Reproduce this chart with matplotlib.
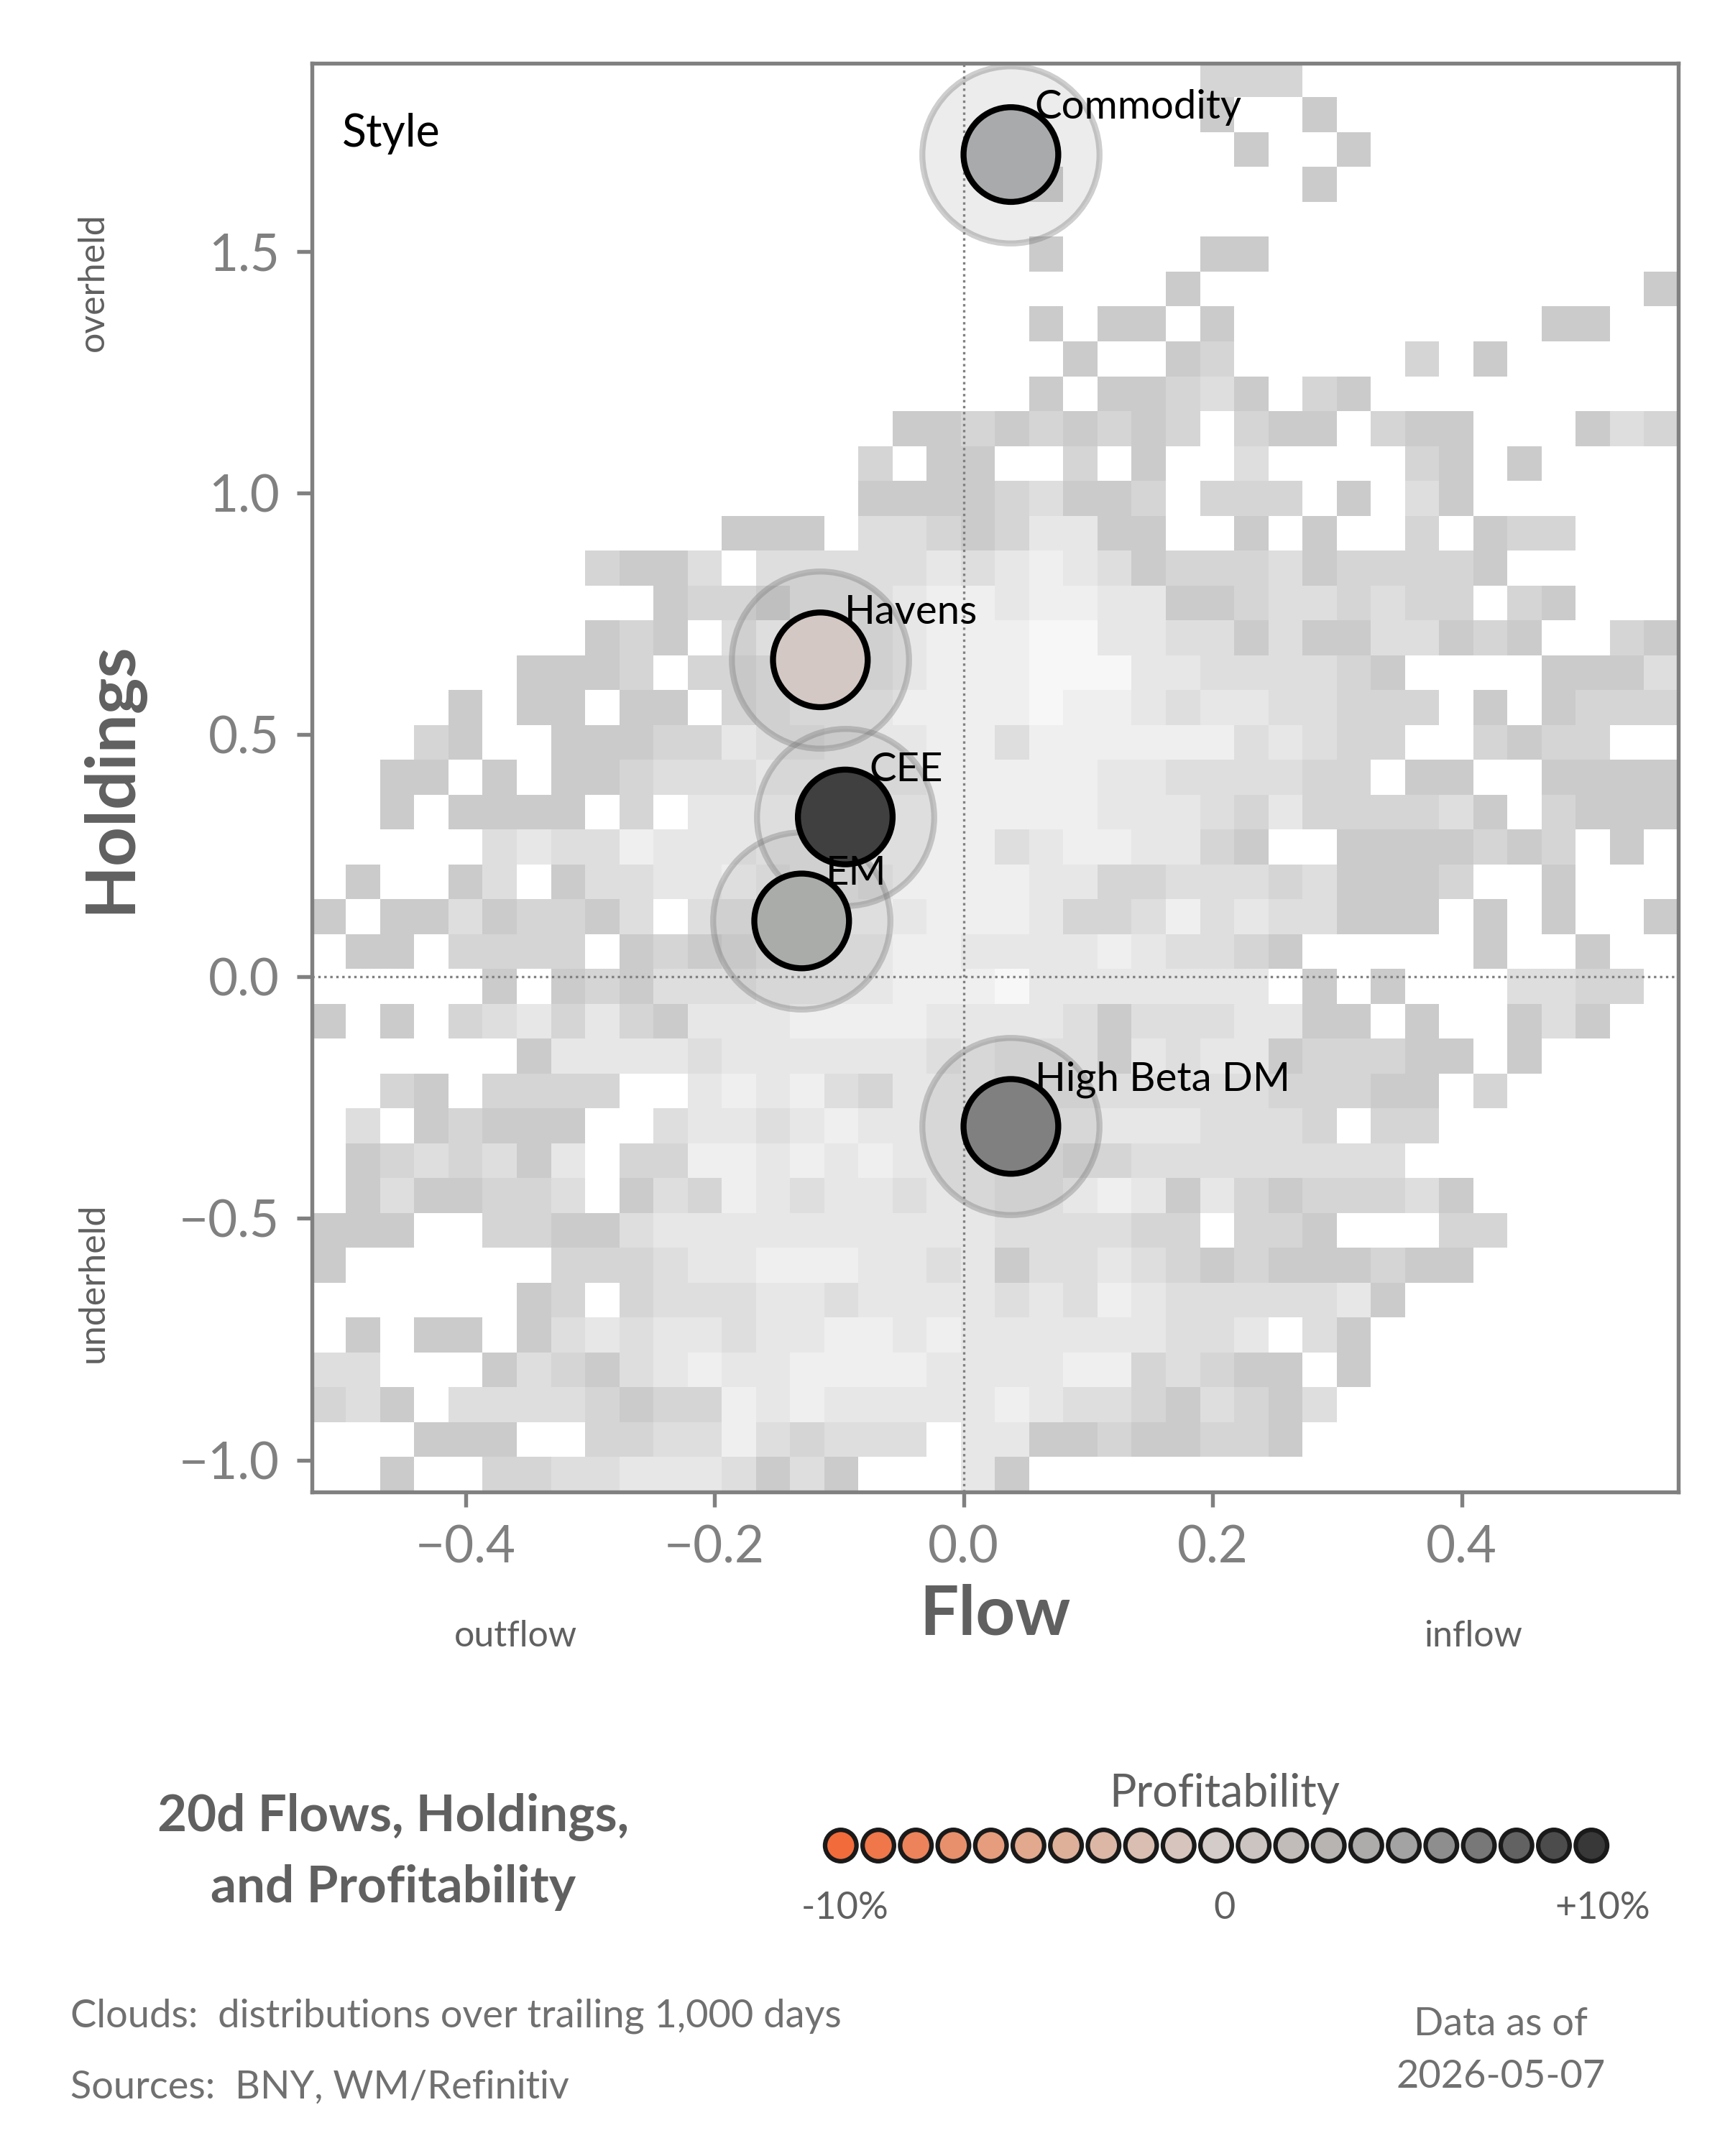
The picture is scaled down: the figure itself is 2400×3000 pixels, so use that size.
import matplotlib
matplotlib.use("Agg")
import matplotlib.pyplot as plt
import numpy as np
from matplotlib.colors import ListedColormap, LinearSegmentedColormap

plt.rcParams["font.family"] = ["Lato", "DejaVu Sans"]

# background cloud: density levels per cell (top row first), '.' = empty
cloud_rows = [
    "..........................222...........",
    "..........................1..1..........",
    "...........................1..1.........",
    ".....................1.......1..........",
    "........................................",
    ".....................1....11............",
    ".........................1.............1",
    ".....................1.11.1.........11..",
    "......................1..12.....2.1.....",
    ".....................1.11231.21.........",
    ".................112121212.211.211...1321",
    "................2.11..2.1..3....21.1....",
    "................111123112.222.1.31......",
    "............111.332124411..1.1..2.122...",
    "........2113.333334345431222312222 1.....".replace(" ", ""),
    "..........122133345545544112332322.21...",
    "........121.35343455566443313113312 1..21".replace(" ", ""),
    "......1112.223333455566644333321....1113",
    "....1.11.11.234445555655434433222.1.1222",
    "...21..1112243344455355555534322..2122..",
    "..11.1.112333444445555544333322.11..1111",
    "..1.1111.2.4455555555554443242222 31.2111".replace(" ", ""),
    ".....3433544455555553455442 1..1111212.1.".replace(" ", ""),
    ".1..13.1334454554555544223332311 12..1...".replace(" ", ""),
    "1.11312213.3344554555422353433111.1.1..1",
    ".11.2222.12123444554444543321.....1..1..",
    ".....1.121333444455564444444.1.1...3322.",
    "1.1.2342421444555544443133344 11.1..131..".replace(" ", ""),
    "......14444344444434333143441222 11.1....".replace(" ", ""),
    "..21.2222..4545324443333333322211.2.....",
    ".3.12111..34434544443444443332.22.......",
    ".1232314.22554545444332233333333........",
    ".1311223.1325434434433454142122231......",
    "111..221134444444444333322.221...22.....",
    "1......222344555443413343212111211......",
    "......12.23334434444343543333341........",
    ".1.11.1343443445545444444334.31.........",
    "33...132134544555544445523211.1.........",
    "231.33332122545444445433213213..........",
    "...111..2233532333.4411211221...........",
    "..1..22334443131...41...................",
]

labels = ["Commodity", "Havens", "CEE", "EM", "High Beta DM"]
flow = [0.038, -0.115, -0.095, -0.130, 0.038]
holdings = [1.70, 0.655, 0.330, 0.115, -0.310]
fills = ["#a9aaab", "#d3c8c3", "#404040", "#aaacaa", "#808080"]

xlim = (-0.523, 0.574)
ylim = (-1.066, 1.889)

grid = np.array([[0 if ch == "." else int(ch) for ch in row[:40].ljust(40, ".")]
                 for row in cloud_rows], dtype=float)
grid = np.ma.masked_equal(grid, 0)
cloud_cmap = ListedColormap(["#cbcbcb", "#d5d5d5", "#dedede", "#e7e7e7", "#efefef", "#f7f7f7"])

fig = plt.figure(figsize=(8, 10), dpi=300)
ax = fig.add_axes([0.181, 0.308, 0.792, 0.6627])
ax.imshow(grid, cmap=cloud_cmap, vmin=0.5, vmax=6.5, extent=(*xlim, *ylim),
          aspect="auto", interpolation="nearest", origin="upper", zorder=0)
ax.set_xlim(xlim)
ax.set_ylim(ylim)
ax.axvline(0, color="#808080", ls=(0, (1, 1.5)), lw=0.8, zorder=1)
ax.axhline(0, color="#808080", ls=(0, (1, 1.5)), lw=0.8, zorder=1)

ax.scatter(flow, holdings, s=3500, facecolor=(0.5, 0.5, 0.5, 0.15),
           edgecolor=(0.45, 0.45, 0.45, 0.35), linewidth=2, zorder=2)
ax.scatter(flow, holdings, s=1000, c=fills, edgecolor="black", linewidth=2, zorder=3)
for name, x, y in zip(labels, flow, holdings):
    ax.annotate(name, (x, y), xytext=(8, 12), textcoords="offset points",
                fontsize=13.5, color="black", zorder=4)

ax.text(0.022, 0.965, "Style", transform=ax.transAxes, fontsize=15, va="top")

for sp in ax.spines.values():
    sp.set_color("#808080")
    sp.set_linewidth(1.3)
ax.set_xticks([-0.4, -0.2, 0.0, 0.2, 0.4])
ax.set_yticks([-1.0, -0.5, 0.0, 0.5, 1.0, 1.5])
ax.set_xticklabels(["\u22120.4", "\u22120.2", "0.0", "0.2", "0.4"])
ax.set_yticklabels(["\u22121.0", "\u22120.5", "0.0", "0.5", "1.0", "1.5"])
ax.tick_params(colors="#808080", labelsize=17, length=5, width=1.3, pad=6)

ax.set_xlabel("Flow", fontsize=23, fontweight="bold", color="#606060", labelpad=4)
ax.set_ylabel("Holdings", fontsize=23, fontweight="bold", color="#606060", labelpad=12)
fig.text(0.299, 0.241, "outflow", fontsize=12, color="#606060", ha="center", va="center")
fig.text(0.854, 0.241, "inflow", fontsize=12, color="#606060", ha="center", va="center")
fig.text(0.054, 0.869, "overheld", fontsize=12, color="#606060", rotation=90, ha="center", va="center")
fig.text(0.054, 0.405, "underheld", fontsize=12, color="#606060", rotation=90, ha="center", va="center")

# profitability legend
profit_levels = np.linspace(-10, 10, 21)
prof_cmap = LinearSegmentedColormap.from_list(
    "prof", ["#f26b3a", "#e2a98e", "#d4ccc8", "#a4a4a4", "#383838"])
lax = fig.add_axes([0.47, 0.114, 0.47, 0.06])
lax.scatter(profit_levels, np.zeros_like(profit_levels), s=110, c=profit_levels,
            cmap=prof_cmap, vmin=-10, vmax=10, edgecolor="#1a1a1a", linewidth=1.5)
lax.set_xlim(-10.8, 10.8)
lax.set_ylim(-1, 1)
lax.axis("off")
fig.text(0.710, 0.168, "Profitability", fontsize=15, color="#606060", ha="center", va="center")
fig.text(0.490, 0.115, "-10%", fontsize=12.5, color="#606060", ha="center", va="center")
fig.text(0.710, 0.115, "0", fontsize=12.5, color="#606060", ha="center", va="center")
fig.text(0.929, 0.115, "+10%", fontsize=12.5, color="#606060", ha="center", va="center")

fig.text(0.228, 0.141, "20d Flows, Holdings,\nand Profitability", fontsize=17,
         fontweight="bold", color="#606060", ha="center", va="center", linespacing=1.6)
fig.text(0.041, 0.065, "Clouds:  distributions over trailing 1,000 days", fontsize=13,
         color="#707070", va="center")
fig.text(0.041, 0.032, "Sources:  BNY, WM/Refinitiv", fontsize=13, color="#707070", va="center")
fig.text(0.870, 0.049, "Data as of\n2026-05-07", fontsize=13, color="#707070",
         ha="center", va="center", linespacing=1.6)

fig.savefig("out.png", dpi=300)
